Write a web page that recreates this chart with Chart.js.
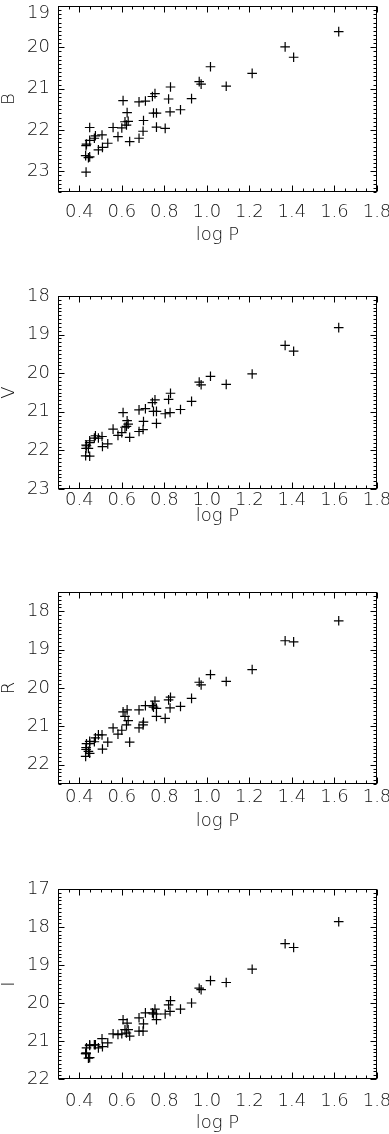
<!DOCTYPE html>
<html lang="en">
<head>
  <meta charset="UTF-8">
  <title>Period-luminosity relations in B, V, R, I</title>
  <script src="https://cdn.jsdelivr.net/npm/chart.js"></script>
  <style>
    body {
      margin: 0;
      background: #fff;
      width: 389px;
      height: 1134px;
      overflow: hidden;
    }
    canvas {
      position: absolute;
      left: 0;
    }
  </style>
</head>
<body>
  <canvas id="chartB" width="389" height="246" style="top:0px"></canvas>
  <canvas id="chartV" width="389" height="241" style="top:286px"></canvas>
  <canvas id="chartR" width="389" height="250" style="top:582px"></canvas>
  <canvas id="chartI" width="389" height="255" style="top:879px"></canvas>

  <script>
    // periods (log P) of the stars, shared by every band
    const logP = [1.620, 1.408, 1.368, 1.213, 1.091, 1.017, 0.973, 0.964, 0.928, 0.876,
                  0.829, 0.827, 0.820, 0.804, 0.763, 0.763, 0.756, 0.749, 0.744, 0.711,
                  0.702, 0.700, 0.681, 0.681, 0.637, 0.630, 0.625, 0.622, 0.615, 0.606,
                  0.600, 0.582, 0.559, 0.534, 0.509, 0.507, 0.490, 0.476, 0.471, 0.449,
                  0.449, 0.449, 0.443, 0.434, 0.432, 0.430, 0.432];

    const bMag = [19.62, 20.24, 19.99, 20.63, 20.94, 20.47, 20.89, 20.83, 21.24, 21.51,
                  20.96, 21.56, 21.25, 21.96, 21.93, 21.59, 21.12, 21.59, 21.19, 21.30,
                  21.77, 22.03, 21.32, 22.20, 22.28, 21.79, 21.58, 21.88, 21.80, 21.29,
                  21.95, 22.16, 21.94, 22.32, 22.42, 22.12, 22.48, 22.14, 22.20, 21.94,
                  22.25, 22.65, 22.67, 22.34, 22.38, 22.62, 23.02];

    const vMag = [18.82, 19.43, 19.28, 20.02, 20.29, 20.08, 20.30, 20.23, 20.73, 20.94,
                  20.52, 21.02, 20.68, 21.05, 21.30, 20.99, 20.69, 20.99, 20.76, 20.92,
                  21.25, 21.46, 20.95, 21.51, 21.66, 21.32, 21.23, 21.38, 21.40, 21.02,
                  21.54, 21.61, 21.45, 21.83, 21.90, 21.64, 21.68, 21.62, 21.68, 21.75,
                  21.80, 22.15, 21.95, 21.88, 21.95, 22.14, 21.86];

    const rMag = [18.25, 18.80, 18.77, 19.52, 19.83, 19.65, 19.92, 19.85, 20.27, 20.48,
                  20.24, 20.52, 20.31, 20.79, 20.74, 20.53, 20.34, 20.50, 20.46, 20.46,
                  20.89, 20.96, 20.57, 21.04, 21.41, 20.85, 20.57, 20.96, 20.74, 20.62,
                  21.10, 21.20, 21.04, 21.41, 21.59, 21.22, 21.22, 21.30, 21.40, 21.39,
                  21.45, 21.70, 21.65, 21.45, 21.55, 21.78, 21.60];

    const iMag = [17.86, 18.54, 18.44, 19.11, 19.46, 19.41, 19.65, 19.61, 20.00, 20.16,
                  19.94, 20.22, 20.05, 20.29, 20.44, 20.29, 20.16, 20.29, 20.26, 20.26,
                  20.55, 20.74, 20.39, 20.74, 20.87, 20.70, 20.53, 20.79, 20.70, 20.44,
                  20.81, 20.83, 20.81, 21.05, 21.15, 20.94, 21.18, 21.10, 21.10, 21.10,
                  21.12, 21.44, 21.45, 21.18, 21.31, 21.33, 21.33];

    const xTicks = [0.4, 0.6, 0.8, 1.0, 1.2, 1.4, 1.6, 1.8];
    const bTicks = [19, 20, 21, 22, 23];
    const vTicks = [18, 19, 20, 21, 22, 23];
    const rTicks = [18, 19, 20, 21, 22];
    const iTicks = [17, 18, 19, 20, 21, 22];

    Chart.defaults.font.family = "'DejaVu Sans', sans-serif";
    Chart.defaults.font.size = 18;
    Chart.defaults.font.weight = 200;
    Chart.defaults.color = '#111';

    // box round the plot with inward major/minor ticks on all four sides
    const frameTicks = {
      id: 'frameTicks',
      afterDatasetsDraw(chart) {
        const { ctx, chartArea: a, scales: { x, y } } = chart;
        const L = Math.round(a.left) + 0.5, R = Math.round(a.right) - 0.5;
        const T = Math.round(a.top) + 0.5, B = Math.round(a.bottom) - 0.5;
        ctx.save();
        ctx.strokeStyle = '#000';
        ctx.lineWidth = 1;
        ctx.strokeRect(L, T, R - L, B - T);
        ctx.beginPath();
        for (let k = 0; ; k++) {
          const v = Math.round((x.min + k * 0.05) * 100) / 100;
          if (v > x.max + 1e-9) break;
          const len = Math.abs(v * 5 - Math.round(v * 5)) < 1e-6 ? 6 : 3;
          const px = Math.round(x.getPixelForValue(v)) + 0.5;
          ctx.moveTo(px, B); ctx.lineTo(px, B - len);
          ctx.moveTo(px, T); ctx.lineTo(px, T + len);
        }
        for (let k = 0; ; k++) {
          const v = Math.round((y.min + k * 0.1) * 10) / 10;
          if (v > y.max + 1e-9) break;
          const len = Math.abs(v - Math.round(v)) < 1e-6 ? 6 : 3;
          const py = Math.round(y.getPixelForValue(v)) + 0.5;
          ctx.moveTo(L, py); ctx.lineTo(L + len, py);
          ctx.moveTo(R, py); ctx.lineTo(R - len, py);
        }
        ctx.stroke();
        ctx.restore();
      }
    };

    function buildPanel(id, mags, band, yMin, yMax, yTicks, padTop, tickPad, axisH) {
      return new Chart(document.getElementById(id), {
        type: 'scatter',
        data: {
          datasets: [{
            data: logP.map((p, i) => ({ x: p, y: mags[i] })),
            pointStyle: 'cross',
            pointRadius: 4.8,
            borderColor: '#000',
            backgroundColor: '#000',
            borderWidth: 1.2
          }]
        },
        options: {
          responsive: false,
          animation: false,
          devicePixelRatio: 1,
          events: [],
          layout: { padding: { top: padTop, right: 12, bottom: 0, left: 0 } },
          plugins: { legend: { display: false }, tooltip: { enabled: false } },
          scales: {
            x: {
              type: 'linear',
              min: 0.3,
              max: 1.8,
              grid: { display: false, drawTicks: false },
              border: { display: false },
              afterBuildTicks: s => { s.ticks = xTicks.map(v => ({ value: v })); },
              afterFit: s => { s.height = axisH; s.paddingLeft = 0; s.paddingRight = 0; },
              ticks: { padding: tickPad, maxRotation: 0, autoSkip: false, callback: v => v.toFixed(1) },
              title: { display: true, text: 'log P', padding: 0 }
            },
            y: {
              type: 'linear',
              reverse: true,
              min: yMin,
              max: yMax,
              grid: { display: false, drawTicks: false },
              border: { display: false },
              afterBuildTicks: s => { s.ticks = yTicks.map(v => ({ value: v })); },
              afterFit: s => { s.width = 58; s.paddingTop = 0; s.paddingBottom = 0; },
              ticks: {
                padding: 8,
                autoSkip: false,
                font: { lineHeight: '14px' },
                // top label of the first panel sits just under the frame edge
                callback: v => (padTop < 5 && v === yMin) ? ['', String(v)] : String(v)
              },
              title: { display: true, text: band, padding: 0, font: { lineHeight: 1 } }
            }
          }
        },
        plugins: [frameTicks]
      });
    }

    buildPanel('chartB', bMag, 'B', 19, 23.5, bTicks, 1, 10, 54);
    buildPanel('chartV', vMag, 'V', 18, 23, vTicks, 10, 1, 38);
    buildPanel('chartR', rMag, 'R', 17.5, 22.5, rTicks, 10, 3, 48);
    buildPanel('chartI', iMag, 'I', 17, 22, iTicks, 10, 12, 55);
  </script>
</body>
</html>
